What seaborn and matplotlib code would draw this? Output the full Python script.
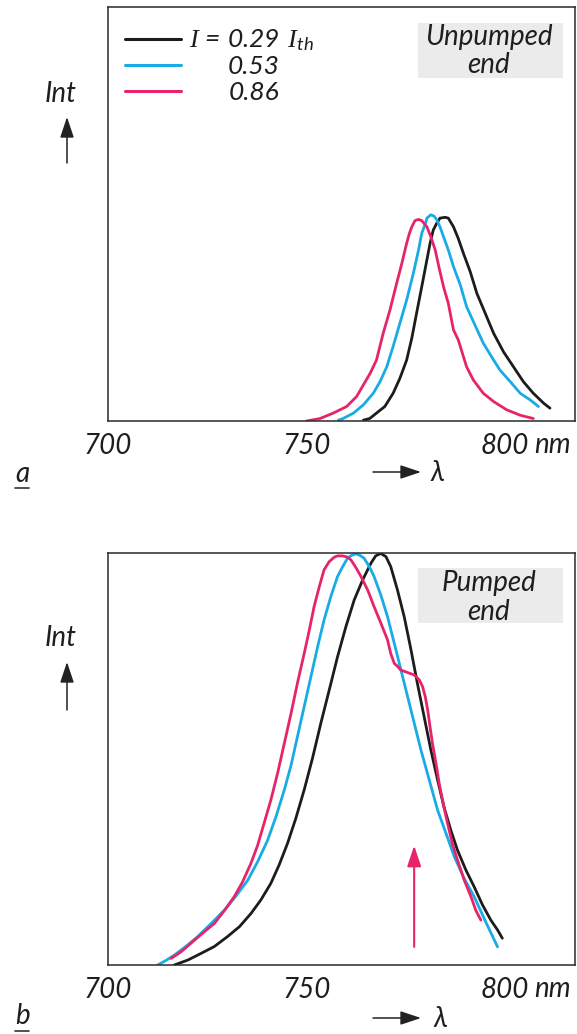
import pandas as pd
import matplotlib.pyplot as plt
import seaborn as sns
from matplotlib.lines import Line2D
from matplotlib.patches import Rectangle

# spectra: wavelength (nm) and relative intensity
a_black_wl = [764.3, 765.9, 767.6, 769.7, 771.8, 773.5, 775.2, 776.5, 777.7, 779.0, 780.3, 781.1, 781.9, 782.8, 783.6,
              784.9, 785.7, 787.0, 788.2, 789.5, 791.2, 792.9, 795.0, 797.1, 799.6, 802.1, 804.6, 807.1, 809.7, 811.3]
a_black_int = [0.002, 0.006, 0.019, 0.035, 0.067, 0.103, 0.147, 0.200, 0.260, 0.324, 0.389, 0.429, 0.461, 0.478, 0.490,
               0.492, 0.490, 0.469, 0.441, 0.405, 0.361, 0.308, 0.260, 0.212, 0.167, 0.131, 0.095, 0.067, 0.043, 0.031]
a_blue_wl = [758.0, 759.2, 761.8, 764.3, 766.8, 768.5, 770.2, 771.8, 773.5, 775.2, 776.9, 778.2, 779.0, 779.9, 780.3,
             781.3, 782.1, 782.8, 783.6, 784.5, 785.7, 787.0, 788.7, 790.3, 792.4, 794.5, 796.6, 798.7, 801.3, 803.8,
             806.3, 808.4]
a_blue_int = [0.002, 0.006, 0.019, 0.039, 0.067, 0.095, 0.131, 0.180, 0.236, 0.292, 0.357, 0.413, 0.453, 0.476, 0.490,
              0.498, 0.495, 0.486, 0.469, 0.445, 0.413, 0.373, 0.329, 0.276, 0.232, 0.188, 0.155, 0.123, 0.095, 0.067,
              0.051, 0.035]
a_pink_wl = [750.0, 753.4, 756.7, 760.1, 762.6, 766.0, 767.6, 769.3, 771.0, 772.7, 774.0, 775.2, 775.9, 776.5, 777.3,
             778.2, 779.0, 780.3, 781.3, 782.4, 783.4, 784.5, 785.7, 787.0, 788.2, 790.3, 792.0, 794.5, 797.1, 800.4,
             803.8, 807.1]
a_pink_int = [0.000, 0.006, 0.019, 0.035, 0.059, 0.115, 0.147, 0.212, 0.268, 0.333, 0.381, 0.429, 0.453, 0.469, 0.484,
              0.487, 0.484, 0.469, 0.445, 0.413, 0.369, 0.324, 0.284, 0.220, 0.196, 0.131, 0.099, 0.067, 0.047, 0.027,
              0.014, 0.006]

b_black_wl = [716.7, 720.1, 723.4, 726.8, 730.1, 733.1, 736.0, 738.5, 741.0, 743.1, 745.2, 747.3, 749.4, 751.5, 753.6,
              755.7, 757.8, 759.9, 762.0, 764.1, 766.2, 767.4, 768.7, 770.0, 771.2, 772.9, 774.6, 776.3, 777.9, 779.6,
              781.3, 783.0, 784.6, 786.3, 788.0, 790.1, 792.2, 794.3, 796.4, 798.1, 799.3]
b_black_int = [0.000, 0.012, 0.028, 0.045, 0.069, 0.093, 0.125, 0.158, 0.198, 0.243, 0.295, 0.356, 0.425, 0.502, 0.587,
               0.667, 0.748, 0.821, 0.886, 0.934, 0.975, 0.993, 0.999, 0.991, 0.967, 0.910, 0.845, 0.765, 0.684, 0.603,
               0.522, 0.449, 0.384, 0.328, 0.279, 0.231, 0.190, 0.146, 0.109, 0.085, 0.065]
b_blue_wl = [712.5, 714.6, 716.7, 719.6, 722.6, 725.9, 729.3, 732.2, 735.2, 737.7, 740.2, 742.3, 744.4, 746.1, 747.7,
             749.4, 751.1, 752.8, 754.4, 756.1, 757.8, 759.1, 760.3, 761.3, 762.4, 763.5, 764.5, 765.8, 767.0, 768.7,
             770.4, 772.5, 774.6, 776.7, 778.8, 780.9, 783.0, 785.1, 787.2, 789.7, 792.2, 795.1, 798.1]
b_blue_int = [0.000, 0.011, 0.024, 0.045, 0.069, 0.100, 0.133, 0.167, 0.206, 0.251, 0.303, 0.360, 0.425, 0.485, 0.554,
              0.627, 0.700, 0.773, 0.837, 0.894, 0.943, 0.967, 0.987, 0.994, 0.998, 0.994, 0.987, 0.967, 0.943, 0.898,
              0.845, 0.765, 0.684, 0.603, 0.522, 0.449, 0.376, 0.320, 0.263, 0.210, 0.166, 0.105, 0.044]
b_pink_wl = [715.9, 718.4, 720.9, 723.8, 726.8, 729.3, 731.8, 733.9, 736.0, 737.7, 739.3, 741.0, 742.7, 744.4, 746.1,
             747.7, 749.4, 750.7, 751.9, 753.2, 754.4, 755.7, 757.0, 757.8, 759.1, 760.3, 761.2, 762.4, 763.7, 765.4,
             767.0, 768.7, 770.4, 771.2, 772.1, 772.9, 773.7, 775.4, 777.1, 778.4, 779.2, 779.9, 780.5, 781.1, 781.7,
             782.6, 783.4, 784.4, 785.5, 786.7, 788.0, 789.7, 791.4, 792.6, 793.9]
b_pink_int = [0.016, 0.032, 0.053, 0.077, 0.101, 0.132, 0.166, 0.202, 0.247, 0.291, 0.344, 0.400, 0.465, 0.538, 0.611,
              0.684, 0.756, 0.813, 0.870, 0.918, 0.959, 0.979, 0.990, 0.993, 0.993, 0.990, 0.983, 0.965, 0.943, 0.910,
              0.870, 0.830, 0.789, 0.756, 0.732, 0.725, 0.716, 0.710, 0.704, 0.692, 0.676, 0.651, 0.619, 0.578, 0.538,
              0.489, 0.441, 0.392, 0.344, 0.295, 0.255, 0.206, 0.166, 0.133, 0.109]

currents = ["0.29", "0.53", "0.86"]
xticks = [700, 750, 800]
xtick_labels = ["700", "750", "800"]

colors = {"0.29": "#1c1c1c", "0.53": "#19abe6", "0.86": "#e6246b"}


def to_frame(curves):
    parts = []
    for cur, (wl, it) in zip(currents, curves):
        parts.append(pd.DataFrame({"wl": wl, "int": it, "current": cur}))
    return pd.concat(parts, ignore_index=True)


df_a = to_frame([(a_black_wl, a_black_int), (a_blue_wl, a_blue_int), (a_pink_wl, a_pink_int)])
df_b = to_frame([(b_black_wl, b_black_int), (b_blue_wl, b_blue_int), (b_pink_wl, b_pink_int)])

sns.set_style("white")
plt.rcParams["font.family"] = ["Lato", "DejaVu Sans"]
plt.rcParams["font.style"] = "italic"
plt.rcParams["font.weight"] = "normal"
plt.rcParams["text.color"] = "#1e1e1e"
plt.rcParams["xtick.color"] = "#1e1e1e"
plt.rcParams["mathtext.fontset"] = "custom"
plt.rcParams["mathtext.rm"] = "Lato:italic"
plt.rcParams["mathtext.it"] = "Liberation Serif:italic"

W, H = 577, 1034
fig = plt.figure(figsize=(W / 100, H / 100), dpi=100)
ax_a = fig.add_axes([108 / W, 1 - 421 / H, 467 / W, 414 / H])
ax_b = fig.add_axes([108 / W, 1 - 965 / H, 467 / W, 412 / H])

fs = 20
arrow_kw = dict(arrowstyle="-|>,head_length=0.9,head_width=0.3", color="#222222",
                lw=1.1, mutation_scale=14, shrinkA=0, shrinkB=0)

for ax, df in [(ax_a, df_a), (ax_b, df_b)]:
    sns.lineplot(data=df, x="wl", y="int", hue="current", palette=colors,
                 estimator=None, legend=False, linewidth=2.0, ax=ax)
    ax.set_xlim(700, 817.6)
    ax.set_ylim(0, 1)
    ax.set_xticks(xticks)
    ax.set_xticklabels(xtick_labels, fontsize=fs)
    ax.set_yticks([])
    ax.tick_params(axis="x", direction="in", length=7, width=1.0, pad=9, color="#333333")
    ax.set_xlabel("")
    ax.set_ylabel("")
    for s in ax.spines.values():
        s.set_color("#2a2a2a")
        s.set_linewidth(1.1)
    ax.text(812.0, -0.058, "nm", transform=ax.get_xaxis_transform(), fontsize=fs,
            ha="center", va="center")

# Int labels with arrows
for y_txt, y0, y1 in [(94, 163, 117), (638, 710, 662)]:
    fig.text(61 / W, 1 - y_txt / H, "Int", fontsize=fs, ha="center", va="center")
    fig.add_artist(plt.Annotation("", xy=(67, H - y1), xytext=(67, H - y0),
                                  xycoords="figure pixels", textcoords="figure pixels",
                                  arrowprops=arrow_kw))

# lambda axis arrows
for y, xl in [(472, 437), (1018, 440)]:
    fig.add_artist(plt.Annotation("", xy=(421, H - y), xytext=(373, H - y),
                                  xycoords="figure pixels", textcoords="figure pixels",
                                  arrowprops=arrow_kw))
    fig.text(xl / W, 1 - (y + 1) / H, "λ", fontsize=fs, ha="center", va="center")

# panel letters
for letter, y, yl in [("a", 474, 488), ("b", 1016, 1031)]:
    fig.text(22 / W, 1 - y / H, letter, fontsize=fs, ha="center", va="center")
    fig.add_artist(Line2D([15 / W, 29 / W], [1 - yl / H, 1 - yl / H], color="#333333", lw=1.2))

# legend in panel a
lfs = 19
for cur, y in zip(currents, [39, 65, 91]):
    fig.add_artist(Line2D([125 / W, 181 / W], [1 - y / H, 1 - y / H], color=colors[cur], lw=2.2))
fig.text(189 / W, 1 - 40 / H, r"$I\,=\,0.29\;\,I_{\mathrm{th}}$", fontsize=lfs, ha="left", va="center")
fig.text(254 / W, 1 - 67 / H, "0.53", fontsize=lfs, ha="center", va="center")
fig.text(254 / W, 1 - 93 / H, "0.86", fontsize=lfs, ha="center", va="center")

# shaded captions
for top, bot, lines in [(23, 78, [("Unpumped", 37), ("end", 65)]),
                        (568, 623, [("Pumped", 583), ("end", 612)])]:
    fig.add_artist(Rectangle((418 / W, 1 - bot / H), 145 / W, (bot - top) / H,
                             transform=fig.transFigure, facecolor="#ebebeb", edgecolor="none"))
    for txt, y in lines:
        fig.text(489 / W, 1 - y / H, txt, fontsize=fs, ha="center", va="center")

# pink marker arrow in panel b
ax_b.annotate("", xy=(777.1, 0.29), xytext=(777.1, 0.044),
              arrowprops=dict(arrowstyle="-|>,head_length=0.9,head_width=0.3", color=colors["0.86"],
                              lw=1.5, mutation_scale=14, shrinkA=0, shrinkB=0))

fig.savefig("out.png", dpi=100)
